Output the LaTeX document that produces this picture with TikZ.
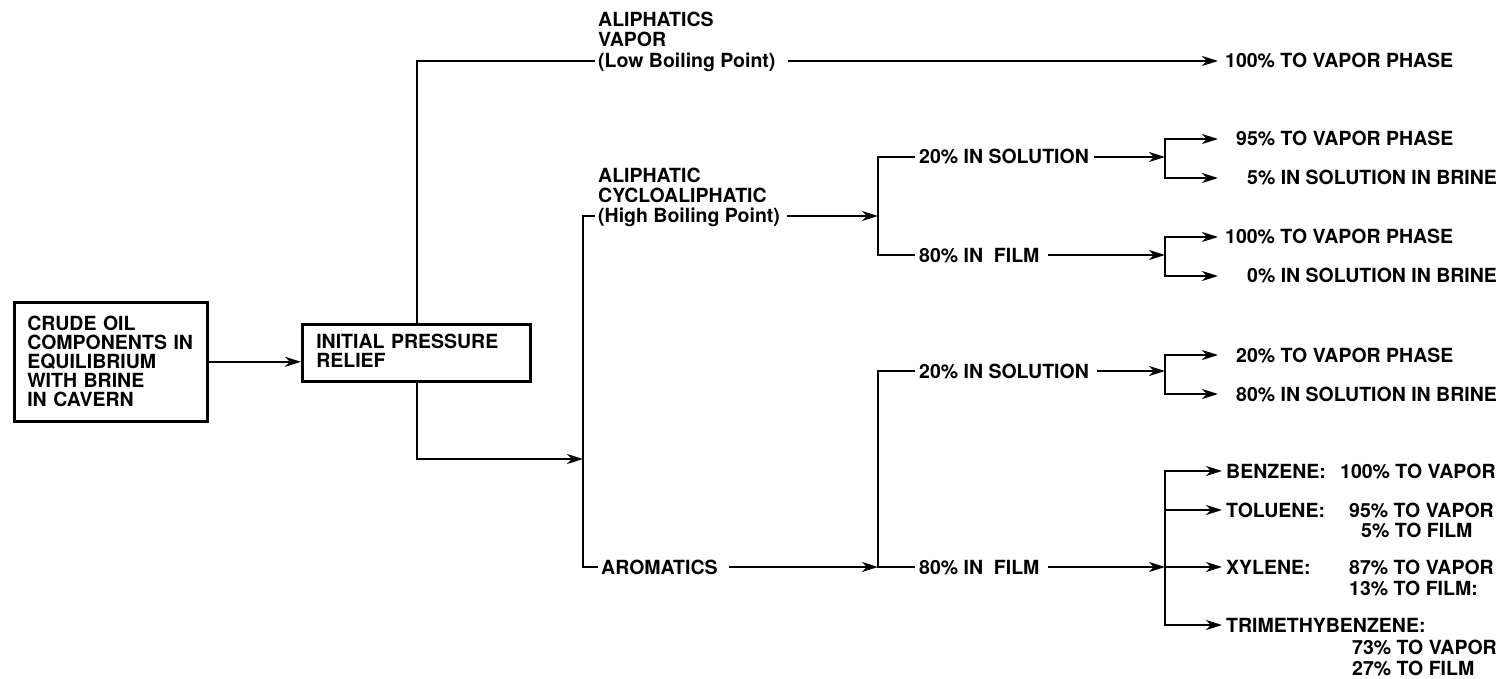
\documentclass[tikz,border=0pt]{standalone}
\usepackage{fontspec}
\setmainfont{TeX Gyre Heros}
\usetikzlibrary{arrows.meta}
\newcommand\lblfont{\fontsize{19.5}{19}\selectfont\bfseries}
\tikzset{
  lbl/.style={inner sep=0pt, text height=14pt, text depth=0pt, font=\lblfont, anchor=west},
  lblr/.style={lbl, anchor=east},
  ln/.style={line width=2.2pt, line join=miter},
  arr/.style={ln, -{Stealth[length=16pt,width=10pt,inset=5pt]}},
  boxnode/.style={draw, line width=2.6pt, align=left, font=\lblfont, anchor=north west}
}
\begin{document}
\begin{tikzpicture}[x=1pt,y=-1pt]
\useasboundingbox (0,0) rectangle (1508,679);
% boxes
\node[boxnode, text width=167pt, inner xsep=13pt, inner ysep=0pt, minimum height=119pt] (box1) at (13,301)
  {CRUDE OIL\\COMPONENTS IN\\EQUILIBRIUM\\WITH BRINE\\IN CAVERN};
\node[boxnode, text width=200pt, inner xsep=14pt, inner ysep=10pt, text depth=23pt] (box2) at (301,323)
  {INITIAL PRESSURE\\RELIEF};
% column coordinates
\coordinate (vx) at (417,0);
\coordinate (cA) at (583,459);
\coordinate (cB) at (878,0);
\coordinate (cC) at (1165,0);
\coordinate (tA) at (1218,0);
\coordinate (tB) at (1222,0);
% labels
\node[lbl] (ali1) at (598,20) {ALIPHATICS};
\node[lbl] (ali2) at (598,40) {VAPOR};
\node[lbl] (ali3) at (598,61) {(Low Boiling Point)};
\node[lbl] (vp1) at (1225,61) {100\% TO VAPOR PHASE};
\node[lbl] (hi1) at (598,176) {ALIPHATIC};
\node[lbl] (hi2) at (598,196) {CYCLOALIPHATIC};
\node[lbl] (hi3) at (598,216) {(High Boiling Point)};
\node[lbl] (s1) at (919,157) {20\% IN SOLUTION};
\node[lbl] (f1) at (919,255) {80\% IN\ \ FILM};
\node[lbl] (v95) at (1236,139) {95\% TO VAPOR PHASE};
\node[lbl] (b5) at (1247,178) {5\% IN SOLUTION IN BRINE};
\node[lbl] (v100) at (1225,237) {100\% TO VAPOR PHASE};
\node[lbl] (b0) at (1247,276) {0\% IN SOLUTION IN BRINE};
\node[lbl] (aro) at (601,567) {AROMATICS};
\node[lbl] (s2) at (919,371) {20\% IN SOLUTION};
\node[lbl] (f2) at (919,567) {80\% IN\ \ FILM};
\node[lbl] (v20) at (1236,355) {20\% TO VAPOR PHASE};
\node[lbl] (b80) at (1236,394) {80\% IN SOLUTION IN BRINE};
\node[lbl] (benz) at (1226,471) {BENZENE:};
\node[lbl] (benzv) at (1340,471) {100\% TO VAPOR};
\node[lbl] (tol) at (1226,510) {TOLUENE:};
\node[lbl] (tolv) at (1349,510) {95\% TO VAPOR};
\node[lbl] (tolf) at (1361,530) {5\% TO FILM};
\node[lbl] (xyl) at (1226,567) {XYLENE:};
\node[lbl] (xylv) at (1349,567) {87\% TO VAPOR};
\node[lbl] (xylf) at (1349,588) {13\% TO FILM:};
\node[lbl] (tri) at (1226,625) {TRIMETHYBENZENE:};
\node[lbl] (triv) at (1352,647) {73\% TO VAPOR};
\node[lbl] (trif) at (1352,668) {27\% TO FILM};
% connectors
\draw[arr] (box1.east) -- (box1.east -| box2.west);
\draw[ln] (vx |- box2.north) |- ([xshift=-3pt]ali3.west);
\draw[arr] ([xshift=12pt]ali3.east) -- (tA |- vp1.west);
\draw[arr] (vx |- box2.south) |- (cA);
\draw[ln] ([xshift=-3pt]hi3.west) -| (cA) |- ([xshift=-3pt]aro.west);
% aliphatic high boiling
\draw[arr] ([xshift=7pt]hi3.east) -- (cB |- hi3.east);
\draw[ln] ([xshift=-4pt]s1.west) -| (cB |- hi3.east) |- ([xshift=-4pt]f1.west);
\draw[arr] ([xshift=5pt]s1.east) -- (cC |- s1.east);
\draw[arr] (cC |- s1.east) |- (tA |- v95.west);
\draw[arr] (cC |- s1.east) |- (tA |- b5.west);
\draw[arr] ([xshift=8pt]f1.east) -- (cC |- f1.east);
\draw[arr] (cC |- f1.east) |- (tA |- v100.west);
\draw[arr] (cC |- f1.east) |- (tA |- b0.west);
% aromatics
\draw[arr] ([xshift=11pt]aro.east) -- (cB |- aro.east);
\draw[ln] ([xshift=-4pt]s2.west) -| (cB |- aro.east) -- ([xshift=-4pt]f2.west);
\draw[arr] ([xshift=8pt]s2.east) -- (cC |- s2.east);
\draw[arr] (cC |- s2.east) |- (tA |- v20.west);
\draw[arr] (cC |- s2.east) |- (tA |- b80.west);
\draw[arr] ([xshift=8pt]f2.east) -- (cC |- f2.east);
\draw[arr] (cC |- f2.east) |- (tB |- benz.west);
\draw[arr] (cC |- f2.east) |- (tB |- tol.west);
\draw[arr] (cC |- f2.east) -- (tB |- xyl.west);
\draw[arr] (cC |- f2.east) |- (tB |- tri.west);
\end{tikzpicture}
\end{document}
